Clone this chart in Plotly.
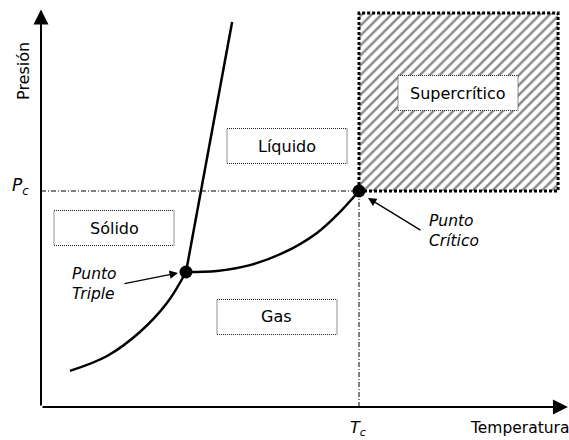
import plotly.graph_objects as go

# Reduced units: T/Tc and P/Pc
Tc, Pc = 1.0, 1.0
triple_T, triple_P = 0.456, 0.625

sublim_T = [0.091, 0.208, 0.311, 0.396, 0.456]
sublim_P = [0.167, 0.236, 0.347, 0.481, 0.625]

vap_T = [0.456, 0.553, 0.657, 0.761, 0.868, 0.931, 1.0]
vap_P = [0.625, 0.630, 0.657, 0.713, 0.806, 0.889, 1.0]

fusion_T = [0.456, 0.601]
fusion_P = [0.625, 1.782]

super_T = [1.0, 1.626]
super_P = [1.0, 1.824]

phase_labels = ["Sólido", "Líquido", "Gas", "Supercrítico"]
label_T = [0.2296, 0.7736, 0.7421, 1.3113]
label_P = [0.8287, 1.2083, 0.4167, 1.4537]

T_axis_end = 1.657
P_axis_end = 1.840

FONT = "DejaVu Sans, Verdana, sans-serif"

fig = go.Figure()

# Supercritical hatched region
fig.add_trace(go.Scatter(
    x=[super_T[0], super_T[1], super_T[1], super_T[0], super_T[0]],
    y=[super_P[0], super_P[0], super_P[1], super_P[1], super_P[0]],
    mode="lines", fill="toself",
    fillcolor="white",
    fillpattern=dict(shape="/", fgcolor="#111111", bgcolor="white", size=7, solidity=0.35),
    line=dict(color="black", width=3, dash="3px,2px"),
    hoverinfo="skip", showlegend=False))

# reference dash-dot lines
fig.add_trace(go.Scatter(x=[0, Tc], y=[Pc, Pc], mode="lines",
                         line=dict(color="black", width=1, dash="5px,2px,1px,2px"),
                         showlegend=False, hoverinfo="skip"))
fig.add_trace(go.Scatter(x=[Tc, Tc], y=[0, Pc], mode="lines",
                         line=dict(color="black", width=1, dash="5px,2px,1px,2px"),
                         showlegend=False, hoverinfo="skip"))

# phase boundaries
fig.add_trace(go.Scatter(x=sublim_T, y=sublim_P, mode="lines", line=dict(color="black", width=2.5, shape="spline"),
                         showlegend=False, hoverinfo="skip"))
fig.add_trace(go.Scatter(x=vap_T, y=vap_P, mode="lines", line=dict(color="black", width=2.5, shape="spline"),
                         showlegend=False, hoverinfo="skip"))
fig.add_trace(go.Scatter(x=fusion_T, y=fusion_P, mode="lines", line=dict(color="black", width=2.5),
                         showlegend=False, hoverinfo="skip"))

# points
fig.add_trace(go.Scatter(x=[triple_T, Tc], y=[triple_P, Pc], mode="markers",
                         marker=dict(color="black", size=13), showlegend=False, hoverinfo="skip"))

# label boxes
hw, hh = 0.1887, 0.081
shapes = []
for t, p in zip(label_T, label_P):
    shapes.append(dict(type="rect", xref="x", yref="y", x0=t - hw, x1=t + hw, y0=p - hh, y1=p + hh,
                       fillcolor="white", line=dict(color="#222222", width=1, dash="1px,1px"), layer="above"))

annotations = []
for name, t, p in zip(phase_labels, label_T, label_P):
    annotations.append(dict(x=t, y=p, xref="x", yref="y", text=name, showarrow=False,
                            font=dict(family=FONT, size=16, color="black")))

# axes with arrows
annotations.append(dict(x=0, y=P_axis_end, ax=0, ay=0, xref="x", yref="y", axref="x", ayref="y",
                        text="", showarrow=True, arrowhead=2, arrowsize=1.5, arrowwidth=2, arrowcolor="black"))
annotations.append(dict(x=T_axis_end, y=0, ax=0, ay=0, xref="x", yref="y", axref="x", ayref="y",
                        text="", showarrow=True, arrowhead=2, arrowsize=1.5, arrowwidth=2, arrowcolor="black"))

# pointers
annotations.append(dict(x=0.4308, y=0.6204, ax=0.2579, ay=0.5694, xref="x", yref="y", axref="x", ayref="y",
                        text="", showarrow=True, arrowhead=2, arrowsize=1.3, arrowwidth=1.3, arrowcolor="black"))
annotations.append(dict(x=1.0283, y=0.9676, ax=1.1981, ay=0.8148, xref="x", yref="y", axref="x", ayref="y",
                        text="", showarrow=True, arrowhead=2, arrowsize=1.3, arrowwidth=1.3, arrowcolor="black"))

annotations.append(dict(x=0.0912, y=0.5694, xref="x", yref="y", xanchor="left", yanchor="middle", align="left",
                        text="<i>Punto<br>Triple</i>", showarrow=False,
                        font=dict(family=FONT, size=15.5, color="black")))
annotations.append(dict(x=1.2138, y=0.8148, xref="x", yref="y", xanchor="left", yanchor="middle", align="left",
                        text="<i>Punto<br>Crítico</i>", showarrow=False,
                        font=dict(family=FONT, size=15.5, color="black")))

annotations.append(dict(x=-0.066, y=1.023, xref="x", yref="y", text="<i>P<sub>c</sub></i>", showarrow=False,
                        font=dict(family=FONT, size=17, color="black")))
annotations.append(dict(x=0.997, y=-0.100, xref="x", yref="y", text="<i>T<sub>c</sub></i>", showarrow=False,
                        font=dict(family=FONT, size=16, color="black")))
annotations.append(dict(x=-0.0535, y=1.5556, xref="x", yref="y", text="Presión", textangle=-90, showarrow=False,
                        font=dict(family=FONT, size=16, color="black")))
annotations.append(dict(x=1.3428, y=-0.0972, xref="x", yref="y", xanchor="left", text="Temperatura",
                        showarrow=False, font=dict(family=FONT, size=15.5, color="black")))

fig.update_layout(
    width=569, height=440,
    margin=dict(l=0, r=0, t=0, b=0),
    paper_bgcolor="white", plot_bgcolor="white",
    xaxis=dict(range=[-0.12893, 1.66038], visible=False, fixedrange=True),
    yaxis=dict(range=[-0.15278, 1.88426], visible=False, fixedrange=True),
    shapes=shapes, annotations=annotations,
    showlegend=False,
)

fig.write_html("out.html", config={"displayModeBar": False},
               post_script="document.body.style.margin='0';document.body.style.overflow='hidden';")
